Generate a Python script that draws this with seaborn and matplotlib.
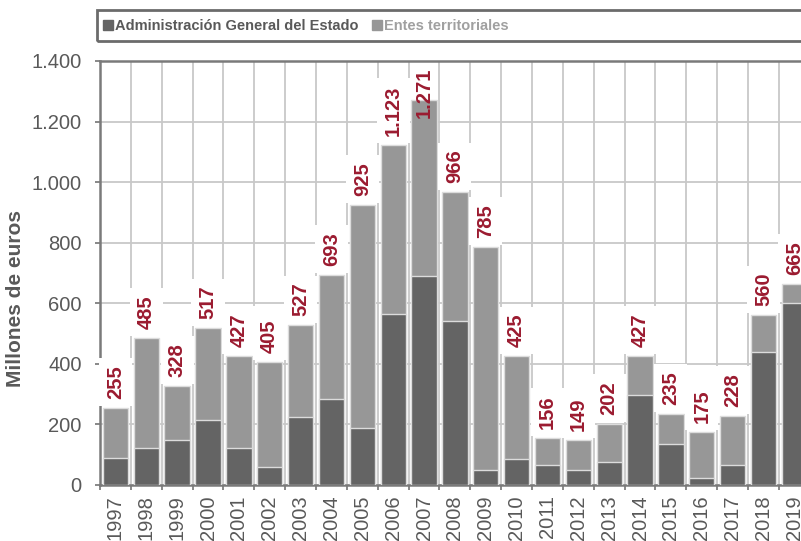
import matplotlib
matplotlib.use("Agg")
import matplotlib.pyplot as plt
import numpy as np
import pandas as pd
import seaborn as sns
from matplotlib.patches import Patch, Rectangle

years = [str(y) for y in range(1997, 2020)]
totals = [255, 485, 328, 517, 427, 405, 527, 693, 925, 1123, 1271, 966, 785,
          425, 156, 149, 202, 427, 235, 175, 228, 560, 665]
age = [90, 123, 150, 216, 123, 60, 226, 283, 189, 565, 691, 542, 48,
       87, 66, 48, 76, 298, 134, 24, 67, 440, 600]
series_names = ["Administración General del Estado", "Entes territoriales"]

DARK = "#646464"
LIGHT = "#979797"
TXT = "#595959"
RED = "#9b1b30"


def fmt(v):
    return f"{v:,.0f}".replace(",", ".")


sns.set_theme(style="white")
plt.rcParams["font.family"] = ["Liberation Sans", "DejaVu Sans"]

df = pd.DataFrame({"year": years, "total": totals, "age": age})

fig = plt.figure(figsize=(8.01, 5.41), dpi=100)
ax = fig.add_axes([100 / 801, 56 / 541, 709.8 / 801, 424 / 541])

sns.barplot(data=df, x="year", y="total", color=LIGHT, saturation=1, width=0.82,
            edgecolor="#dcdcdc", linewidth=1, ax=ax, zorder=2)
sns.barplot(data=df, x="year", y="age", color=DARK, saturation=1, width=0.82,
            edgecolor="#dcdcdc", linewidth=1, ax=ax, zorder=3)

ax.set_xlim(-0.5, len(years) - 0.5)
ax.set_ylim(0, 1400)
ax.set_yticks(np.arange(0, 1401, 200))
ax.set_yticklabels([fmt(v) for v in np.arange(0, 1401, 200)])
ax.set_xticks(np.arange(-0.5, len(years), 1), minor=True)
ax.set_axisbelow(True)
ax.grid(False)
ax.yaxis.grid(True, which="major", color="#c8c8c8", lw=1.3, zorder=0)
ax.xaxis.grid(True, which="minor", color="#c8c8c8", lw=1.3, zorder=0)

ax.tick_params(axis="x", which="major", length=0, pad=7.5, labelsize=14.5,
               labelcolor=TXT, rotation=90)
ax.tick_params(axis="x", which="minor", length=3.6, width=1.3, color="#7f7f7f",
               direction="out", bottom=True)
ax.tick_params(axis="y", which="major", length=3.6, width=1.3, color="#7f7f7f",
               direction="out", left=True, pad=9.5, labelsize=14.5, labelcolor=TXT)
for s in ax.spines.values():
    s.set_color("#7a7a7a")
    s.set_linewidth(1.8)
ax.set_xlabel("")
ax.set_ylabel("Millones de euros", fontsize=15, fontweight="bold", color=TXT)
ax.yaxis.set_label_coords(-0.105, 0.441)

anns = []
for i, t in enumerate(totals):
    a = ax.annotate(fmt(t), xy=(i, t), xytext=(0, 6.5), textcoords="offset points",
                    rotation=90, ha="center", va="bottom", fontsize=14.5,
                    fontweight="bold", color=RED, zorder=5,
                    bbox=dict(boxstyle="square,pad=0.35", fc="white", ec="none"))
    anns.append(a)

fig.canvas.draw()
top_px = ax.get_window_extent().y1
for i, a in enumerate(anns):
    bb = a.get_window_extent()
    if bb.y1 > top_px - 7:
        a.xy = (i, 1400)
        a.set_va("top")
        a.xyann = (0, -5)
        a.get_bbox_patch().set_facecolor("none")

# legend
fig.add_artist(Rectangle((97 / 801, 1 - 41 / 541), 0.95, 31 / 541,
                         transform=fig.transFigure, fill=False,
                         edgecolor="#6b6b6b", lw=2))
handles = [Patch(color=DARK), Patch(color=LIGHT)]
leg = fig.legend(handles, series_names, loc="center left",
                 bbox_to_anchor=(103 / 801, 1 - 26 / 541), ncol=2, frameon=False,
                 borderpad=0, borderaxespad=0, handlelength=0.7, handleheight=0.7,
                 handletextpad=0.15, columnspacing=0.9,
                 prop={"family": ["Liberation Sans"], "weight": "bold", "size": 10.5})
leg.get_texts()[0].set_color(TXT)
leg.get_texts()[1].set_color("#a0a0a0")

fig.savefig("out.png", dpi=100)
